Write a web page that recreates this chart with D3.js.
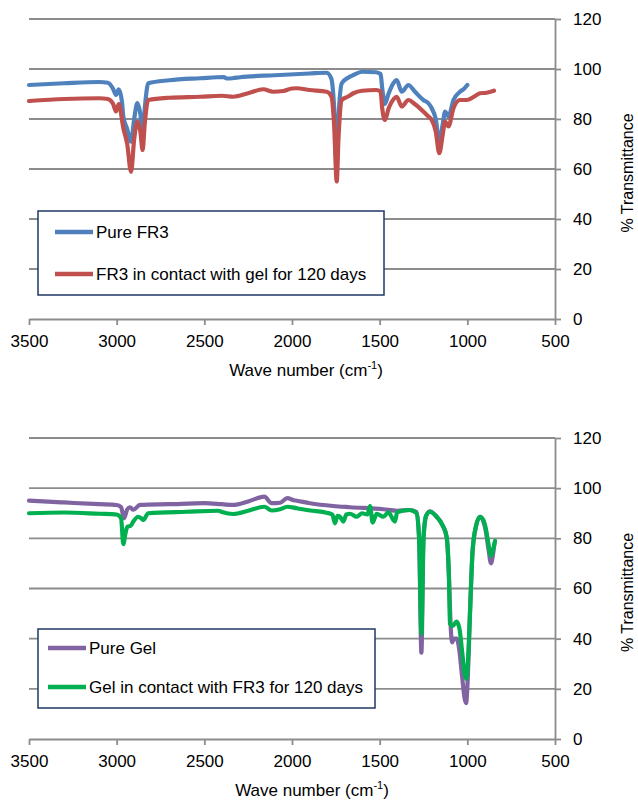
<!DOCTYPE html>
<html>
<head>
<meta charset="utf-8">
<script src="https://cdn.jsdelivr.net/npm/d3@7"></script>
<style>
  body { margin: 0; background: #fff; }
  svg { display: block; font-family: "Liberation Sans", Arial, sans-serif; }
</style>
</head>
<body>
<svg width="638" height="802"></svg>
<script>
// tick values shared by both panels
var xTicks = [3500, 3000, 2500, 2000, 1500, 1000, 500];
var yTicks = [0, 20, 40, 60, 80, 100, 120];

// top panel: FR3 oil
var fr3Wave = [3500, 3300, 3100, 3050, 3020, 3004, 2988, 2970, 2962, 2940, 2918, 2900, 2882, 2865, 2852, 2840, 2820, 2700, 2524, 2390, 2372, 2340, 2297, 2100, 1900, 1802, 1775, 1760, 1745, 1735, 1716, 1680, 1650, 1600, 1520, 1495, 1485, 1470, 1450, 1420, 1403, 1374, 1336, 1300, 1251, 1222, 1203, 1180, 1160, 1140, 1127, 1108, 1079, 1042, 1020, 1000];
var fr3Pure = [93.6, 94.3, 94.8, 94.5, 92, 89.6, 91.9, 87, 81, 76, 70.9, 80, 86.4, 82, 74, 84, 94.3, 95.5, 96.3, 96.8, 96.2, 96.3, 96.7, 97.5, 98.2, 98.5, 96, 85, 62, 80, 94.3, 96.5, 97.6, 98.9, 98.7, 98, 92, 86, 90, 94.5, 95.6, 90.9, 93.6, 91, 87.6, 86.3, 84.3, 80, 70.9, 78, 83, 81, 87.6, 90.9, 92, 93.6];

var fr3AgedWave = [3500, 3300, 3100, 3050, 3020, 3004, 2988, 2962, 2940, 2918, 2900, 2882, 2865, 2852, 2840, 2820, 2700, 2524, 2400, 2336, 2250, 2164, 2108, 2050, 2000, 1973, 1900, 1802, 1775, 1760, 1745, 1735, 1716, 1680, 1650, 1600, 1520, 1495, 1485, 1470, 1450, 1420, 1403, 1374, 1336, 1300, 1251, 1222, 1203, 1180, 1160, 1140, 1127, 1108, 1079, 1042, 1004, 960, 928, 890, 848];
var fr3Aged = [87.2, 88, 88.3, 88, 86, 83, 86, 76.4, 70, 58.9, 72, 79, 75, 67.6, 78, 87.6, 88.5, 88.9, 89.3, 88.9, 90.3, 91.9, 90.9, 91.2, 92.2, 92.3, 91.6, 90.9, 89, 78, 55, 72, 87.6, 89, 90.3, 91.3, 91.6, 91, 84, 79.6, 84, 88, 88.9, 85, 87.6, 86, 83, 81, 79.6, 75, 66.3, 74, 79, 77, 84.3, 87.6, 87.6, 89, 90.3, 90.5, 91.3];

// bottom panel: gel
var gelWave = [3500, 3300, 3100, 3000, 2975, 2958, 2940, 2924, 2905, 2867, 2700, 2500, 2400, 2335, 2250, 2158, 2116, 2068, 2027, 1990, 1973, 1897, 1766, 1669, 1479, 1400, 1330, 1290, 1275, 1262, 1250, 1235, 1213, 1180, 1140, 1118, 1105, 1095, 1087, 1075, 1061, 1045, 1030, 1015, 1007, 997, 985, 970, 950, 928, 910, 895, 880, 865, 855, 845];
var gelPure = [95, 94.3, 93.6, 93.3, 92.5, 88, 91.5, 92.4, 91.4, 93.3, 93.6, 94, 93.6, 93.3, 94.7, 96.6, 94, 94.2, 96, 95.2, 95, 94, 92.9, 92.4, 91.6, 91, 91.3, 90.5, 80, 34.4, 80, 89, 90.8, 89, 85, 80.6, 65, 45, 38.5, 40, 40, 35, 25, 16, 14.3, 25, 50, 75, 85, 88.6, 87, 83, 76, 70, 73, 78];

var gelAgedWave = [3500, 3300, 3100, 3000, 2975, 2962, 2950, 2939, 2920, 2905, 2877, 2860, 2848, 2820, 2600, 2420, 2400, 2335, 2250, 2158, 2116, 2068, 2027, 1973, 1897, 1802, 1770, 1755, 1740, 1726, 1707, 1690, 1669, 1631, 1600, 1570, 1555, 1540, 1517, 1479, 1450, 1422, 1413, 1400, 1330, 1290, 1275, 1262, 1250, 1235, 1213, 1180, 1140, 1118, 1105, 1099, 1085, 1061, 1045, 1030, 1015, 1007, 997, 985, 970, 950, 928, 910, 895, 880, 865, 855, 842];
var gelAged = [90, 90.3, 89.8, 89.5, 88, 77.7, 82, 84.6, 85, 86.7, 88.6, 88, 87.3, 90, 90.6, 91, 90.5, 89.7, 91, 92.6, 91.1, 91.6, 92.6, 92, 91.1, 90.2, 89.5, 86, 89, 88.6, 86.7, 89.5, 89.8, 88.6, 90, 89.5, 92.9, 86.3, 89.8, 88.6, 90.4, 87.3, 86.7, 90.4, 91.3, 90, 80, 42, 80, 89, 90.6, 89, 85, 80.6, 65, 46, 45, 46.8, 44, 35, 26, 24, 30, 50, 75, 85, 88.6, 87.5, 84, 78, 73, 75, 79];

var svg = d3.select("svg");

function drawPanel(p) {
  var x = d3.scaleLinear().domain([3500, 500]).range([29, 555]);
  var y = d3.scaleLinear().domain([0, 120]).range([p.bottom, p.top]);
  var g = svg.append("g");

  // gridlines
  g.append("g").selectAll("line")
    .data(yTicks.filter(function(d) { return d > 0; }))
    .enter().append("line")
      .attr("x1", x(3500)).attr("x2", x(500))
      .attr("y1", y).attr("y2", y)
      .attr("stroke", "#8c8c8c").attr("stroke-width", 1.8);

  // x axis along bottom
  var xAxis = g.append("g")
      .attr("transform", "translate(0," + y(0) + ")")
      .call(d3.axisBottom(x).tickValues(xTicks).tickFormat(d3.format("d"))
        .tickSize(6).tickSizeOuter(0).tickPadding(10));

  // y axis on the right
  var yAxis = g.append("g")
      .attr("transform", "translate(" + x(500) + ",0)")
      .call(d3.axisRight(y).tickValues(yTicks).tickSize(6).tickSizeOuter(0).tickPadding(12));

  [xAxis, yAxis].forEach(function(a) {
    a.select(".domain").attr("stroke", "#8c8c8c").attr("stroke-width", 1.8);
    a.selectAll(".tick line").attr("stroke", "#8c8c8c").attr("stroke-width", 1.8);
    a.selectAll("text").attr("fill", "#000").attr("font-size", 17)
      .attr("font-family", "Liberation Sans, Arial, sans-serif");
  });

  // series
  var line = d3.line()
      .x(function(d) { return x(d[0]); })
      .y(function(d) { return y(d[1]); })
      .curve(d3.curveMonotoneX);

  p.series.forEach(function(s) {
    g.append("path")
      .datum(d3.zip(s.wave, s.vals))
      .attr("fill", "none")
      .attr("stroke", s.color)
      .attr("stroke-width", 4.2)
      .attr("stroke-linejoin", "round")
      .attr("stroke-linecap", "round")
      .attr("d", line);
  });

  // axis titles
  var xt = g.append("text")
      .attr("x", p.xTitleX).attr("y", p.bottom + 57)
      .attr("text-anchor", "middle")
      .attr("font-size", 17);
  xt.append("tspan").text("Wave number (cm");
  xt.append("tspan").attr("font-size", 11).attr("dy", -7).text("-1");
  xt.append("tspan").attr("dy", 7).text(")");

  g.append("text")
      .attr("transform", "translate(633," + ((p.top + p.bottom) / 2 + 4) + ") rotate(-90)")
      .attr("text-anchor", "middle")
      .attr("font-size", 16)
      .text("% Transmittance");

  // legend
  var lg = g.append("g").attr("transform", "translate(" + p.legend.x + "," + p.legend.y + ")");
  lg.append("rect")
      .attr("width", p.legend.w).attr("height", p.legend.h)
      .attr("fill", "#fff").attr("stroke", "#1f3864").attr("stroke-width", 1.5);

  var item = lg.selectAll("g.item")
    .data(p.series)
    .enter().append("g")
      .attr("class", "item")
      .attr("transform", function(d, i) { return "translate(0," + p.legend.rows[i] + ")"; });

  item.append("line")
      .attr("x1", p.legend.lx).attr("x2", p.legend.lx + 38)
      .attr("stroke", function(d) { return d.color; })
      .attr("stroke-width", 4.5);

  item.append("text")
      .attr("x", p.legend.lx + 41)
      .attr("dy", "0.35em")
      .attr("font-size", 17)
      .text(function(d) { return d.name; });
}

drawPanel({
  top: 19, bottom: 319, xTitleX: 306,
  legend: { x: 38, y: 211, w: 346, h: 84, lx: 17, rows: [21, 63] },
  series: [
    { name: "Pure FR3", color: "#4f81bd", wave: fr3Wave, vals: fr3Pure },
    { name: "FR3 in contact with gel for 120 days", color: "#c0504d", wave: fr3AgedWave, vals: fr3Aged }
  ]
});

drawPanel({
  top: 438, bottom: 739, xTitleX: 312,
  legend: { x: 38, y: 629, w: 337, h: 79, lx: 10, rows: [19, 58] },
  series: [
    { name: "Pure Gel", color: "#8064a2", wave: gelWave, vals: gelPure },
    { name: "Gel in contact with FR3 for 120 days", color: "#00b050", wave: gelAgedWave, vals: gelAged }
  ]
});
</script>
</body>
</html>
